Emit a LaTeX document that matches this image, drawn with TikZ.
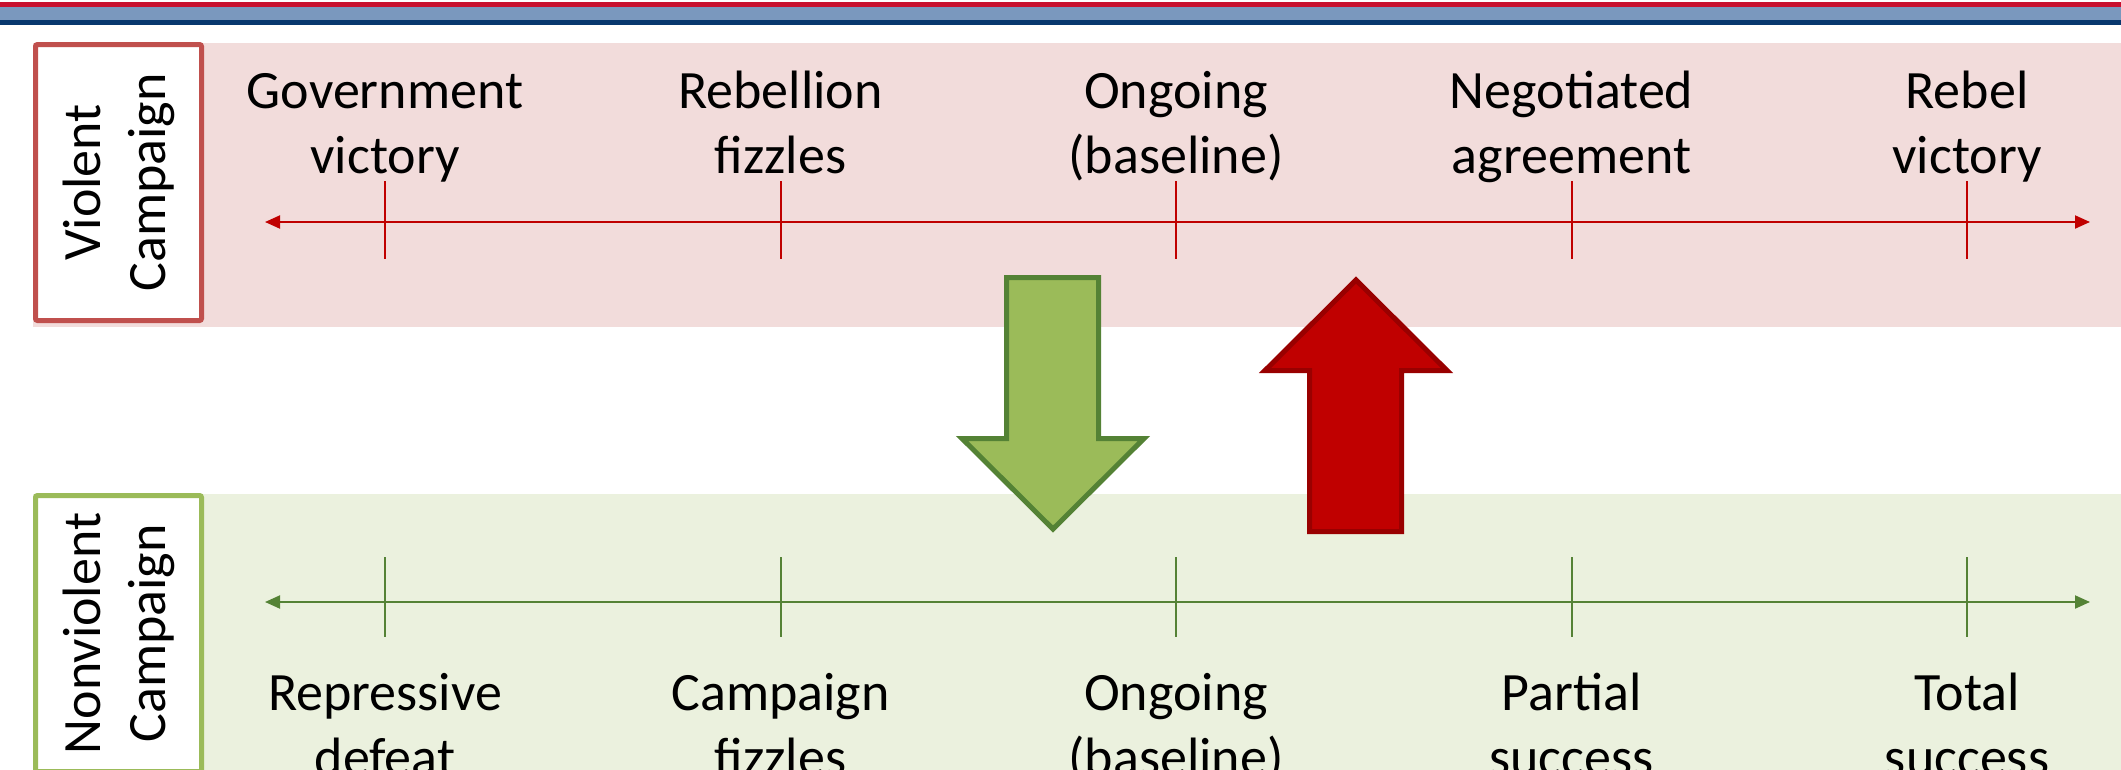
\documentclass[tikz,border=0pt]{standalone}
\usepackage{fontspec}
\setmainfont{Carlito}
\usetikzlibrary{arrows.meta}
\definecolor{stripered}{HTML}{C8102E}
\definecolor{stripelb}{HTML}{7A98BE}
\definecolor{stripedb}{HTML}{08386E}
\definecolor{pinkband}{HTML}{F2DCDB}
\definecolor{greenband}{HTML}{EBF1DE}
\definecolor{redbox}{HTML}{C0504D}
\definecolor{greenbox}{HTML}{9BBB59}
\definecolor{axisred}{HTML}{C00000}
\definecolor{axisgreen}{HTML}{548235}
\definecolor{arrowgreen}{HTML}{9BBB59}
\definecolor{arrowgreenline}{HTML}{548235}
\definecolor{arrowred}{HTML}{C00000}
\definecolor{arrowredline}{HTML}{990000}
\tikzset{
  bigfont/.style={font=\fontsize{54}{65}\selectfont},
  outcome/.style={bigfont, align=center, inner sep=0pt, anchor=base},
  sidebox/.style={draw, line width=5pt, fill=white, rounded corners=2pt,
    minimum width=166pt, minimum height=276pt, inner sep=0pt},
  sidetext/.style={bigfont, align=center, rotate=90, inner sep=0pt},
  axisline/.style={line width=2pt, {Triangle[length=15pt,width=13pt]}-{Triangle[length=15pt,width=13pt]}},
  tickline/.style={line width=2pt},
}
\begin{document}
\begin{tikzpicture}[x=1pt,y=-1pt]
\useasboundingbox (0,0) rectangle (2121,769);
\clip (0,0) rectangle (2121,769);
% top stripes
\fill[stripered] (0,2) rectangle (2121,7);
\fill[stripelb] (0,7) rectangle (2121,20);
\fill[stripedb] (0,20) rectangle (2121,25);
% bands
\fill[pinkband] (33,43) rectangle (2121,327);
\fill[greenband] (33,494) rectangle (2121,800);
% side boxes
\node[sidebox, draw=redbox] (vbox) at (118.5,182.5) {};
\node[sidetext] (vtext) at (vbox.center) {Violent\\Campaign};
\node[sidebox, draw=greenbox] (nbox) at (118.5,633.5) {};
\node[sidetext] (ntext) at (nbox.center) {Nonviolent\\Campaign};
% axes
\coordinate (vl) at (265,222);
\coordinate (vr) at (2090,222);
\draw[axisline, axisred] (vl) -- (vr);
\coordinate (nl) at (265,602);
\coordinate (nr) at (2090,602);
\draw[axisline, axisgreen] (nl) -- (nr);
% ticks and labels
\foreach \x/\i in {385/1,780.5/2,1176/3,1571.5/4,1967/5}{
  \coordinate (vt\i a) at (\x,181);
  \coordinate (vt\i b) at (\x,259);
  \draw[tickline, axisred] (vt\i a) -- (vt\i b);
  \coordinate (nt\i a) at (\x,557);
  \coordinate (nt\i b) at (\x,637);
  \draw[tickline, axisgreen] (nt\i a) -- (nt\i b);
}
\node[outcome] (v1) at (385,173) {Government\\victory};
\node[outcome] (v2) at (780.5,173) {Rebellion\\fizzles};
\node[outcome] (v3) at (1176,173) {Ongoing\\(baseline)};
\node[outcome] (v4) at (1571.5,173) {Negotiated\\agreement};
\node[outcome] (v5) at (1967,173) {Rebel\\victory};
\node[outcome] (n1) at (385,775) {Repressive\\defeat};
\node[outcome] (n2) at (780.5,775) {Campaign\\fizzles};
\node[outcome] (n3) at (1176,775) {Ongoing\\(baseline)};
\node[outcome] (n4) at (1571.5,775) {Partial\\success};
\node[outcome] (n5) at (1967,775) {Total\\success};
% block arrows
\draw[fill=arrowgreen, draw=arrowgreenline, line width=5pt, line join=miter]
  (1006.5,277.5) -- (1098.5,277.5) -- (1098.5,438.5) -- (1144,438.5) -- (1053,529)
  -- (962,438.5) -- (1006.5,438.5) -- cycle;
\draw[fill=arrowred, draw=arrowredline, line width=5pt, line join=miter]
  (1309.5,531.5) -- (1401.5,531.5) -- (1401.5,370.5) -- (1447,370.5) -- (1356,280)
  -- (1265,370.5) -- (1309.5,370.5) -- cycle;
\end{tikzpicture}
\end{document}
